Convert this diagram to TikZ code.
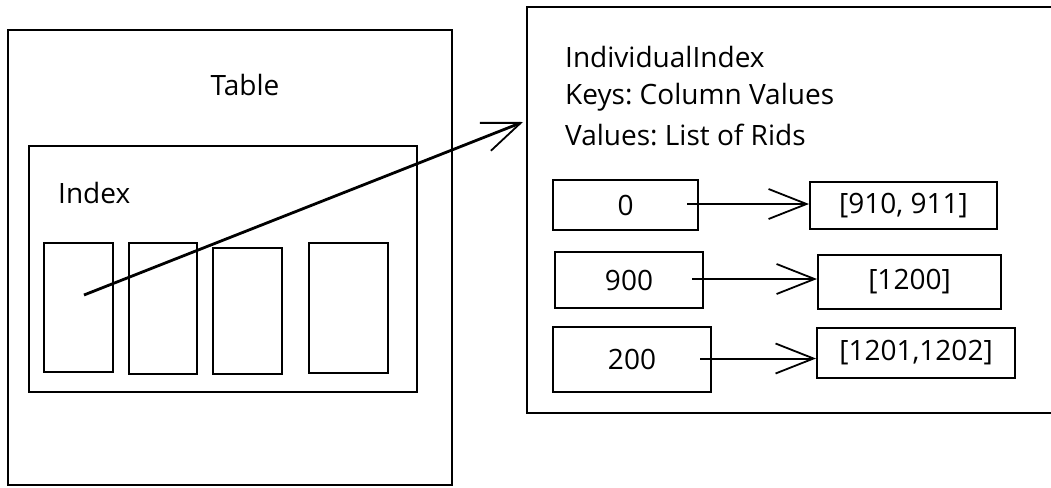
\documentclass[tikz,border=0pt]{standalone}
\usepackage{fontspec}
\setmainfont{Open Sans}
\frenchspacing
\usetikzlibrary{arrows.meta}

\tikzset{
    box/.style={draw,line width=2pt,inner sep=0pt,anchor=center},
    label/.style={font=\fontsize{28}{32}\selectfont,inner sep=0pt},
    ptr/.style={line width=2pt,-{Straight Barb[length=38pt,width=30pt,line width=1.8pt]}},
}

\begin{document}
\begin{tikzpicture}[x=1pt,y=-1pt]
    \useasboundingbox (0,0) rectangle (1051,487);

    % table side
    \node[box,minimum width=444pt,minimum height=455pt] (table) at (230,257.5) {};
    \node[label] (tabletxt) at (245,85) {Table};
    \node[box,minimum width=388pt,minimum height=246pt] (index) at (223,269) {};
    \node[label,anchor=west] (indextxt) at (58,193) {Index};
    \foreach \n/\cx/\cy/\w/\h in {1/78.5/307.5/69/129, 2/163/308.5/68/131,
                                   3/247.5/311/69/126, 4/348.5/308/79/130}
        \node[box,minimum width=\w pt,minimum height=\h pt] (cell\n) at (\cx,\cy) {};

    % individual index side
    \node[box,minimum width=533pt,minimum height=406pt] (ibox) at (793.5,210) {};
    \node[label,anchor=west] (title) at (565,57) {IndividualIndex};
    \node[label,anchor=west] (keys) at (565,97) {Keys: Column Values};
    \node[label,anchor=west] (vals) at (565,135) {Values: List of Rids};

    \node[box,label,minimum width=145pt,minimum height=50pt] (k0) at (625.5,205) {0};
    \node[box,label,minimum width=148pt,minimum height=56pt] (k1) at (629,280) {900};
    \node[box,label,minimum width=158pt,minimum height=65pt] (k2) at (632,359.5) {200};

    \node[box,label,minimum width=187pt,minimum height=47pt] (v0) at (903.5,205.5) {[910, 911]};
    \node[box,label,minimum width=183pt,minimum height=54pt] (v1) at (909.5,282) {[1200]};
    \node[box,label,minimum width=198pt,minimum height=50pt] (v2) at (916,353) {[1201,1202]};

    % pointers
    \coordinate (src) at (84,295);
    \coordinate (hit) at (523,122);
    \draw[ptr,line width=2.8pt] (src) -- (hit);
    \foreach \i in {0,1,2}
        \draw[ptr] ([xshift=-12pt,yshift=1pt]k\i.east) -- ([yshift=1pt]k\i.east -| v\i.west);
\end{tikzpicture}
\end{document}
